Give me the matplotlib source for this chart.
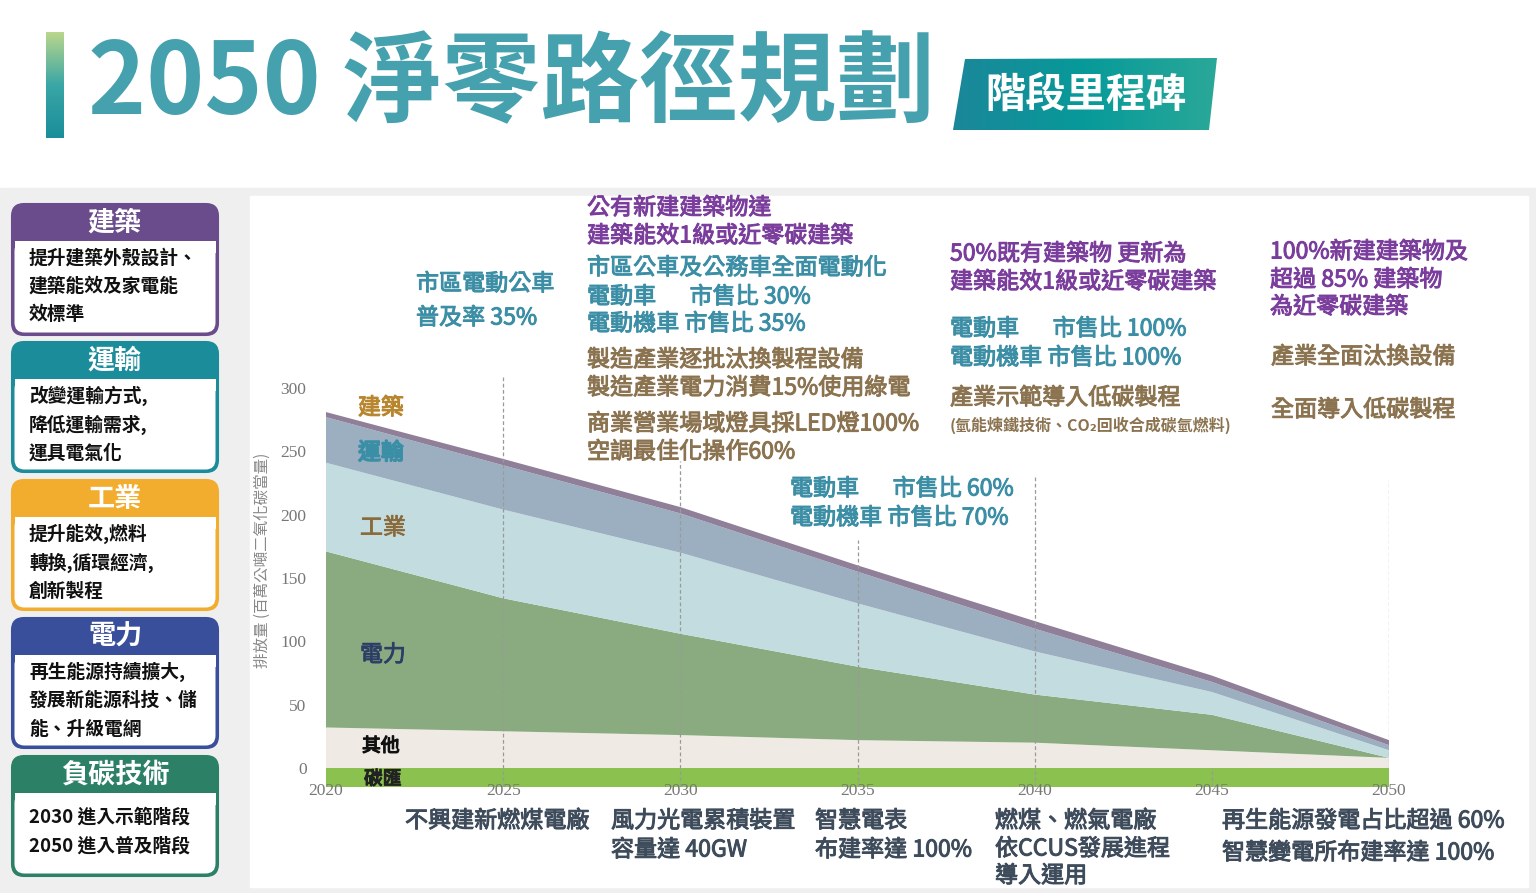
import matplotlib.pyplot as plt
import matplotlib.patheffects as pe
import numpy as np
from matplotlib.patches import FancyBboxPatch, Rectangle, Polygon
from matplotlib.colors import LinearSegmentedColormap

plt.rcParams['font.family'] = ['Noto Sans CJK TC', 'DejaVu Sans']

# emissions by sector (million t CO2e)
years = [2020, 2025, 2030, 2035, 2040, 2045, 2050]
other = [32, 29, 26, 22, 20, 14, 8]
power = [139, 105, 80, 58, 38, 28, 0]
industry = [70, 70, 64, 50, 34, 18, 6]
transport = [36, 35, 31, 25, 18, 8, 4]
building = [4, 5, 5, 5, 6, 5, 4]
sink = [-15, -15, -15, -15, -15, -15, -15]

layer_names = ['其他', '電力', '工業', '運輸', '建築']
layer_colors = ['#efebe4', '#8aab7f', '#c3dcdf', '#9cafc0', '#907f98']
sink_color = '#8bc24f'

y_ticks = [0, 50, 100, 150, 200, 250, 300]
x_ticks = [2020, 2025, 2030, 2035, 2040, 2045, 2050]

# milestone lines: year, top of the dashed line
mile_years = [2025, 2030, 2035, 2040, 2045, 2050]
mile_tops = [310, 242, 180, 231, 0, 227]

W, H = 1536, 893
fig = plt.figure(figsize=(W / 100, H / 100), dpi=100)

# background overlay in pixel coords
bg = fig.add_axes([0, 0, 1, 1], zorder=0)
bg.set_xlim(0, W)
bg.set_ylim(H, 0)
bg.axis('off')
bg.add_patch(Rectangle((0, 188), W, H - 188, color='#efefef'))
bg.add_patch(Rectangle((250, 196), 1278, 691, color='white'))

# title bar gradient
grad = np.linspace(0, 1, 100).reshape(-1, 1)
bar_cmap = LinearSegmentedColormap.from_list('bar', ['#b9d68c', '#3aa6a6', '#1a8e9a'])
bg.imshow(grad, extent=(46, 64, 138, 32), cmap=bar_cmap, aspect='auto', origin='upper')

badge = Polygon([(965, 59), (1217, 58), (1209, 130), (953, 130)], closed=True,
                facecolor='none', edgecolor='none')
bg.add_patch(badge)
badge_cmap = LinearSegmentedColormap.from_list('badge', ['#1b8799', '#079a9a', '#2aa898'])
im = bg.imshow(np.linspace(0, 1, 100).reshape(1, -1), extent=(953, 1217, 130, 58),
               cmap=badge_cmap, aspect='auto', origin='upper')
im.set_clip_path(badge)
bg.set_xlim(0, W)
bg.set_ylim(H, 0)

# left cards
cards = [
    ('建築', '#6a4c8c', 204, 335, ['提升建築外殼設計、', '建築能效及家電能', '效標準']),
    ('運輸', '#1b8c9a', 342, 472, ['改變運輸方式,', '降低運輸需求,', '運具電氣化']),
    ('工業', '#f2ac2e', 480, 610, ['提升能效,燃料', '轉換,循環經濟,', '創新製程']),
    ('電力', '#394f9c', 618, 748, ['再生能源持續擴大,', '發展新能源科技、儲', '能、升級電網']),
    ('負碳技術', '#2c8066', 756, 876, ['2030 進入示範階段', '2050 進入普及階段']),
]
for title, col, top, bot, lines in cards:
    bg.add_patch(FancyBboxPatch((12, top), 206, bot - top,
                                boxstyle='round,pad=0,rounding_size=12',
                                facecolor=col, edgecolor=col, lw=1.5))
    bg.add_patch(FancyBboxPatch((14.5, top + 37), 201, bot - top - 39.5,
                                boxstyle='round,pad=0,rounding_size=10',
                                facecolor='white', edgecolor='none'))
    bg.add_patch(Rectangle((14.5, top + 37), 201, 12, facecolor='white', edgecolor='none'))
    bg.text(115, top + 19, title, color='white', fontsize=19.5, fontweight='bold',
            ha='center', va='center')
    step = 28.5 if len(lines) == 3 else 29
    y0 = top + 54 if len(lines) == 3 else top + 61
    for i, ln in enumerate(lines):
        bg.text(29, y0 + i * step, ln, color='#111111', fontsize=13.5, fontweight='bold',
                ha='left', va='center')

# chart
ppu = 380 / 300
y_lo, y_hi = -15, 330
top_px = 768 - y_hi * ppu
bot_px = 768 - y_lo * ppu
ax = fig.add_axes([326 / W, 1 - bot_px / H, (1389 - 326) / W, (bot_px - top_px) / H], zorder=1)
ax.set_facecolor('none')
ax.stackplot(years, other, power, industry, transport, building,
             colors=layer_colors, labels=layer_names, lw=0)
ax.fill_between(years, sink, 0, color=sink_color, lw=0)
for yr, tp in zip(mile_years, mile_tops):
    ax.plot([yr, yr], [y_lo, tp], color='#9a9a9a', lw=0.9, ls=(0, (3, 2)), zorder=5)
ax.set_xlim(2020, 2050)
ax.set_ylim(y_lo, y_hi)
for s in ax.spines.values():
    s.set_visible(False)
ax.set_yticks(y_ticks)
ax.set_xticks(x_ticks)
ax.tick_params(axis='y', length=0, pad=14, labelcolor='#777777')
ax.tick_params(axis='x', length=0, pad=-3, labelcolor='#777777')
for lab in ax.get_xticklabels() + ax.get_yticklabels():
    lab.set_fontfamily('Liberation Serif')
    lab.set_fontsize(12.5)

# foreground text overlay
fg = fig.add_axes([0, 0, 1, 1], zorder=2)
fg.set_xlim(0, W)
fg.set_ylim(H, 0)
fg.axis('off')
fg.patch.set_alpha(0)

fg.text(88, 85, '2050 淨零路徑規劃', color='#46a1ae', fontsize=71, fontweight='heavy',
        ha='left', va='center')
fg.text(1086, 95, '階段里程碑', color='white', fontsize=29, fontweight='bold',
        ha='center', va='center')

fg.text(262, 560, '排放量 (百萬公噸二氧化碳當量)', color='#888888', fontsize=11.2,
        rotation=90, ha='center', va='center')


def thick(c, w=0.7):
    return [pe.withStroke(linewidth=w, foreground=c)]


chart_labels = [
    ('建築', 358, 408, '#b8862e', 16.5, 0.8),
    ('運輸', 358, 453, '#3a8fa6', 16.5, 1.2),
    ('工業', 360, 528, '#8a6a3a', 16.5, 0.6),
    ('電力', 360, 655, '#2d3e66', 16.5, 0.6),
    ('其他', 362, 746, '#111111', 13.5, 0.9),
    ('碳匯', 364, 779, '#222222', 13.5, 0.9),
]
for t, x, y, c, fs_, w in chart_labels:
    fg.text(x, y, t, color=c, fontsize=fs_, ha='left', va='center', path_effects=thick(c, w))

teal = '#3b8ea5'
purple = '#7a3d9c'
brown = '#8b7350'
dark = '#3e4b5b'
fs = 16.6

notes = [
    (416, [(284, '市區電動公車'), (318, '普及率 35%')], teal),
    (587, [(208, '公有新建建築物達'), (236, '建築能效1級或近零碳建築')], purple),
    (587, [(268, '市區公車及公務車全面電動化'), (297, '電動車　  市售比 30%'),
           (324, '電動機車 市售比 35%')], teal),
    (587, [(360, '製造產業逐批汰換製程設備'), (388, '製造產業電力消費15%使用綠電')], brown),
    (587, [(424, '商業營業場域燈具採LED燈100%'), (452, '空調最佳化操作60%')], brown),
    (790, [(489, '電動車　  市售比 60%'), (518, '電動機車 市售比 70%')], teal),
    (950, [(254, '50%既有建築物 更新為'), (282, '建築能效1級或近零碳建築')], purple),
    (950, [(329, '電動車　  市售比 100%'), (358, '電動機車 市售比 100%')], teal),
    (950, [(398, '產業示範導入低碳製程')], brown),
    (1270, [(252, '100%新建建築物及'), (280, '超過 85% 建築物'), (307, '為近零碳建築')], purple),
    (1271, [(357, '產業全面汰換設備')], brown),
    (1271, [(410, '全面導入低碳製程')], brown),
    (405, [(821, '不興建新燃煤電廠')], dark),
    (611, [(821, '風力光電累積裝置'), (850, '容量達 40GW')], dark),
    (815, [(821, '智慧電表'), (850, '布建率達 100%')], dark),
    (995, [(821, '燃煤、燃氣電廠'), (849, '依CCUS發展進程'), (876, '導入運用')], dark),
    (1222, [(821, '再生能源發電占比超過 60%'), (853, '智慧變電所布建率達 100%')], dark),
]
for x, rows, c in notes:
    for y, t in rows:
        fg.text(x, y, t, color=c, fontsize=fs, ha='left', va='center',
                path_effects=thick(c))

fg.text(950, 425, '(氫能煉鐵技術、CO₂回收合成碳氫燃料)', color=brown, fontsize=11.5,
        fontweight='bold', ha='left', va='center')

fig.savefig('out.png', dpi=100)
